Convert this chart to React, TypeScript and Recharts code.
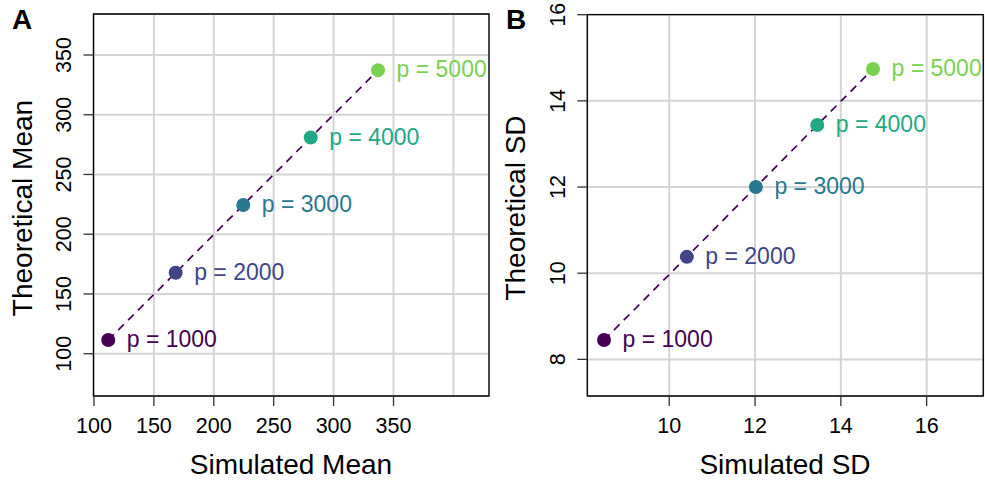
import React from 'react';
import { ScatterChart, Scatter, XAxis, YAxis, CartesianGrid, ReferenceArea } from 'recharts';

const FONT = '"Liberation Sans", Arial, Helvetica, sans-serif';

const pLabels = ['p = 1000', 'p = 2000', 'p = 3000', 'p = 4000', 'p = 5000'];
const pointColors = ['#440154', '#414487', '#2A788E', '#22A884', '#7AD151'];

// panel A: means
const simMean = [111.9, 168.2, 224.6, 280.9, 337.1];
const theoMean = [111.5, 167.8, 224.5, 280.9, 337.3];
// panel B: standard deviations
const simSD = [8.48, 10.41, 12.02, 13.45, 14.75];
const theoSD = [8.45, 10.38, 12.0, 13.44, 14.74];

const meanXTicks = [100, 150, 200, 250, 300, 350, 400];
const meanXLabelled = [100, 150, 200, 250, 300, 350];
const meanYTicks = [100, 150, 200, 250, 300, 350];
const sdXTicks = [10, 12, 14, 16];
const sdYTicks = [8, 10, 12, 14, 16];

const meanData = pLabels.map((label, i) => ({ x: simMean[i], y: theoMean[i], label, color: pointColors[i] }));
const sdData = pLabels.map((label, i) => ({ x: simSD[i], y: theoSD[i], label, color: pointColors[i] }));

const PointShape = (props: any) => {
  const { cx, cy, payload } = props;
  return (
    <g>
      <circle cx={cx} cy={cy} r={7} fill={payload.color} />
      <text x={cx + 18.5} y={cy + 7.2} fontSize={23} fill={payload.color} fontFamily={FONT}>
        {payload.label}
      </text>
    </g>
  );
};

const XTick = (props: any) => {
  const { x, y, payload, labelled } = props;
  if (!labelled.includes(payload.value)) return <g />;
  return (
    <g>
      <line x1={x} x2={x} y1={y} y2={y + 10} stroke="#333" strokeWidth={1.3} />
      <text x={x} y={y + 37} textAnchor="middle" fontSize={21.5} fill="#000" fontFamily={FONT}>
        {payload.value}
      </text>
    </g>
  );
};

const YTick = (props: any) => {
  const { x, y, payload } = props;
  return (
    <g>
      <line x1={x - 10} x2={x} y1={y} y2={y} stroke="#333" strokeWidth={1.3} />
      <text x={x - 22.5} y={y} transform={`rotate(-90 ${x - 22.5} ${y})`} textAnchor="middle" fontSize={21.5} fill="#000" fontFamily={FONT}>
        {payload.value}
      </text>
    </g>
  );
};

interface PanelProps {
  data: { x: number; y: number; label: string; color: string }[];
  left: number;
  width: number;
  margin: { top: number; right: number; bottom: number; left: number };
  yAxisWidth: number;
  xDomain: [number, number];
  yDomain: [number, number];
  xTicks: number[];
  xLabelled: number[];
  yTicks: number[];
}

const Panel: React.FC<PanelProps> = ({ data, left, width, margin, yAxisWidth, xDomain, yDomain, xTicks, xLabelled, yTicks }) => (
  <div style={{ position: 'absolute', left, top: 0, width, height: 482 }}>
    <ScatterChart width={width} height={482} margin={margin}>
      <CartesianGrid stroke="#d4d4d4" strokeWidth={2} />
      <XAxis
        type="number"
        dataKey="x"
        domain={xDomain}
        ticks={xTicks}
        allowDataOverflow
        height={86}
        axisLine={false}
        tickLine={false}
        tickSize={0}
        tickMargin={0}
        interval={0}
        tick={(p: any) => <XTick {...p} labelled={xLabelled} />}
      />
      <YAxis
        type="number"
        dataKey="y"
        domain={yDomain}
        ticks={yTicks}
        allowDataOverflow
        width={yAxisWidth}
        axisLine={false}
        tickLine={false}
        tickSize={0}
        tickMargin={0}
        interval={0}
        tick={(p: any) => <YTick {...p} />}
      />
      <ReferenceArea
        x1={xDomain[0]}
        x2={xDomain[1]}
        y1={yDomain[0]}
        y2={yDomain[1]}
        fill="none"
        stroke="#000"
        strokeWidth={1.3}
        ifOverflow="visible"
      />
      <Scatter
        data={data}
        isAnimationActive={false}
        line={{ stroke: '#440154', strokeWidth: 1.7, strokeDasharray: '8 6' }}
        lineType="joint"
        shape={PointShape}
      />
    </ScatterChart>
  </div>
);

export default function App() {
  return (
    <div style={{ position: 'absolute', left: 0, top: 0, width: 985, height: 482, background: '#fff' }}>
      <Panel
        data={meanData}
        left={0}
        width={492}
        margin={{ top: 14, right: 3, bottom: 0, left: 0 }}
        yAxisWidth={93.5}
        xDomain={[99.6, 429.7]}
        yDomain={[64.6, 384.3]}
        xTicks={meanXTicks}
        xLabelled={meanXLabelled}
        yTicks={meanYTicks}
      />
      <Panel
        data={sdData}
        left={492}
        width={493}
        margin={{ top: 14.7, right: 1.7, bottom: 0, left: 0 }}
        yAxisWidth={95.3}
        xDomain={[8.09, 17.32]}
        yDomain={[7.15, 16.0]}
        xTicks={sdXTicks}
        xLabelled={sdXTicks}
        yTicks={sdYTicks}
      />
      <svg width={985} height={482} style={{ position: 'absolute', left: 0, top: 0, pointerEvents: 'none' }}>
        <g fontFamily={FONT} fill="#000">
          <text x={12} y={29} fontSize={28} fontWeight="bold">A</text>
          <text x={506} y={29} fontSize={28} fontWeight="bold">B</text>
          <text x={291} y={474} fontSize={28} textAnchor="middle">Simulated Mean</text>
          <text x={785} y={474} fontSize={28} textAnchor="middle">Simulated SD</text>
          <text x={32} y={208} fontSize={28} textAnchor="middle" transform="rotate(-90 32 208)">Theoretical Mean</text>
          <text x={525} y={208} fontSize={28} textAnchor="middle" transform="rotate(-90 525 208)">Theoretical SD</text>
        </g>
      </svg>
    </div>
  );
}
